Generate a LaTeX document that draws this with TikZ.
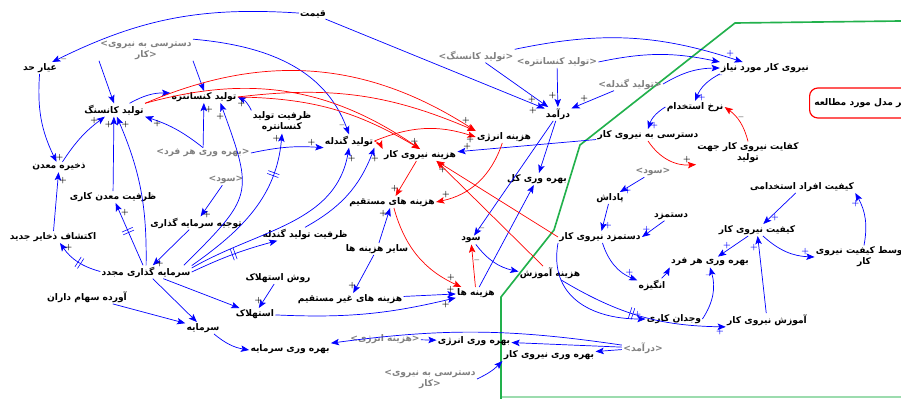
\documentclass[tikz,border=0pt]{standalone}
\usepackage{fontspec}
\usepackage{tikz}
\usetikzlibrary{arrows.meta,decorations.markings}
\TeXXeTstate=1
\newfontfamily\fafont[Script=Arabic]{DejaVu Sans}
\newfontfamily\ltfont{DejaVu Sans}
\newcommand{\fa}[1]{\beginR #1\endR}
\newcommand{\lt}[1]{{\ltfont\bfseries #1}}
\definecolor{bnd}{RGB}{34,177,76}

\tikzset{
  var/.style={font=\fafont\bfseries\fontsize{7.8}{9.5}\selectfont, inner sep=1pt, align=center},
  shadow/.style={var, text=gray},
  bl/.style={draw=blue, line width=.6pt, -{Stealth[length=7pt,width=5.5pt,inset=1.5pt]}},
  rd/.style={bl, draw=red},
  sg/.style={font=\bfseries\fontsize{6.5}{6.5}\selectfont, inner sep=.8pt, text=black},
  sgb/.style={sg, text=blue},
  delaymark/.style={postaction={decorate,decoration={markings,
      mark=at position #1 with {\draw[-,blue,line width=.5pt] (-1.3pt,-5pt)--(-1.3pt,5pt) (1.3pt,-5pt)--(1.3pt,5pt);}}}}
}

\begin{document}
\begin{tikzpicture}[x=0.03cm,y=0.03cm]
\useasboundingbox (0,0) rectangle (901,-399);
\fill[white] (0,0) rectangle (901,-399);
\draw[bnd!45, line width=1pt] (501,-397) -- (901,-397);
\draw[bnd, line width=1.4pt] (501,-399) -- (501,-297) -- (554,-230) -- (580,-145) -- (735,-23) -- (901,-21);

\begin{scope}[every node/.style={var}]
    \node (price) at (313,-14) {\fa{قیمت}};
    \node (cutoff) at (40,-68) {\fa{عیار حد}};
    \node (ore) at (114,-110) {\fa{تولید کانسنگ}};
    \node (conc) at (204,-97) {\fa{تولید کنسانتره}};
    \node (conccap) at (282,-122) {\fa{ظرفیت تولید}\\\fa{کنسانتره}};
    \node (pellet) at (349,-141) {\fa{تولید گندله}};
    \node (encost) at (504,-137) {\fa{هزینه انرژی}};
    \node (labcost) at (420,-155) {\fa{هزینه نیروی کار}};
    \node (rev) at (558,-114) {\fa{درآمد}};
    \node (totprod) at (537,-179) {\fa{بهره وری کل}};
    \node (dircost) at (392,-202) {\fa{هزینه های مستقیم}};
    \node (othcost) at (377,-249) {\fa{سایر هزینه ها}};
    \node (profit) at (471,-240) {\fa{سود}};
    \node (costs) at (476,-293) {\fa{هزینه ها}};
    \node (traincost) at (550,-273) {\fa{هزینه آموزش}};
    \node (indcost) at (350,-299) {\fa{هزینه های غیر مستقیم}};
    \node (depmeth) at (278,-278) {\fa{روش استهلاک}};
    \node (dep) at (255,-314) {\fa{استهلاک}};
    \node (reinv) at (146,-272) {\fa{سرمایه گذاری مجدد}};
    \node (share) at (87,-297) {\fa{آورده سهام داران}};
    \node (capital) at (203,-328) {\fa{سرمایه}};
    \node (capprod) at (290,-349) {\fa{بهره وری سرمایه}};
    \node (enprod) at (474,-341) {\fa{بهره وری انرژی}};
    \node (labprod) at (549,-355) {\fa{بهره وری نیروی کار}};
    \node (pelcap) at (305,-234) {\fa{ظرفیت تولید گندله}};
    \node (justif) at (196,-223) {\fa{توجیه سرمایه گذاری}};
    \node (minecap) at (113,-197) {\fa{ظرفیت معدن کاری}};
    \node (reserve) at (59,-167) {\fa{ذخیره معدن}};
    \node (explor) at (53,-237) {\fa{اکتشاف ذخایر جدید}};
    \node (reqlab) at (765,-68) {\fa{نیروی کار مورد نیاز}};
    \node (hire) at (695,-107) {\fa{نرخ استخدام}};
    \node (access) at (648,-135) {\fa{دسترسی به نیروی کار}};
    \node (adeq) at (748,-153) {\fa{کفایت نیروی کار جهت}\\\fa{تولید}};
    \node (bonus) at (610,-198) {\fa{پاداش}};
    \node (wage) at (671,-216) {\fa{دستمزد}};
    \node (labwage) at (600,-237) {\fa{دستمزد نیروی کار}};
    \node (motiv) at (652,-285) {\fa{انگیزه}};
    \node (perprod) at (710,-262) {\fa{بهره وری هر فرد}};
    \node (consc) at (674,-319) {\fa{وجدان کاری}};
    \node (train) at (767,-320) {\fa{آموزش نیروی کار}};
    \node (labq) at (757,-230) {\fa{کیفیت نیروی کار}};
    \node (hiredq) at (802,-187) {\fa{کیفیت افراد استخدامی}};
    \node (avgq) at (864,-257) {\fa{متوسط کیفیت نیروی}\\\fa{کار}};
    \node[draw=red, line width=1pt, rounded corners=7pt, anchor=west, minimum height=.9cm, inner xsep=4pt] (scopebox) at (809,-103) {\fa{زیر مدل مورد مطالعه}};
\end{scope}

\begin{scope}[every node/.style={shadow}]
    \node (saccessA) at (146,-50) {\lt{<}\fa{دسترسی به نیروی}\\\fa{کار}\lt{>}};
    \node (sore) at (476,-56) {\lt{<}\fa{تولید کانسنگ}\lt{>}};
    \node (sconc) at (557,-62) {\lt{<}\fa{تولید کنسانتره}\lt{>}};
    \node (spel) at (630,-84) {\lt{<}\fa{تولید گندله}\lt{>}};
    \node (sperprod) at (203,-153) {\lt{<}\fa{بهره وری هر فرد}\lt{>}};
    \node (sprofitA) at (226,-180) {\lt{<}\fa{سود}\lt{>}};
    \node (sprofitB) at (653,-172) {\lt{<}\fa{سود}\lt{>}};
    \node (sencost) at (385,-339) {\lt{<}\fa{هزینه انرژی}\lt{>}};
    \node (saccessB) at (430,-379) {\lt{<}\fa{دسترسی به نیروی}\\\fa{کار}\lt{>}};
    \node (srev) at (643,-348) {\lt{<}\fa{درآمد}\lt{>}};
\end{scope}

\begin{scope}[every node/.style={sg}]
    \path (price) edge[bl, bend right=15] node[pos=.97, below right] {--} (cutoff);
    \path (price) edge[bl] node[pos=.97, below left] {+} (rev);
    \path (sore) edge[bl] node[pos=.82, left] {+} (rev);
    \path (sconc) edge[bl] node[pos=.7, left] {+} (rev);
    \path (spel) edge[bl] node[pos=.7, above] {+} (rev);
    \path (rev) edge[bl] (totprod);
    \path (rev) edge[bl] node[pos=.95, right] {--} (profit);
    \path (costs) edge[bl] (totprod);
    \path (profit) edge[bl, bend right=20] (traincost);
    \path (access) edge[bl] node[pos=.93, above] {+} (labcost);
    \path (othcost) edge[bl] node[pos=.85, left] {+} (dircost);
    \path (othcost) edge[bl] node[pos=.8, left] {+} (indcost);
    \path (indcost) edge[bl] node[pos=.9, above] {+} (costs);
    \path (dep) edge[bl, bend right=8] node[pos=.95, below] {+} (costs);
    \path (srev) edge[bl, bend right=8] (capprod);
    \path (srev) edge[bl] (enprod);
    \path (srev) edge[bl] (labprod);
    \path (sencost) edge[bl] (enprod);
    \path (saccessB.east) edge[bl, bend right=10] (labprod.south west);
    \path (capital) edge[bl, bend right=15] (capprod);
    \path (share) edge[bl] (capital);
    \path (reinv) edge[bl] (capital);
    \path (reinv) edge[bl] (dep);
    \path (depmeth) edge[bl] node[pos=.7, left] {+} (dep);

    \path (reinv) edge[bl, bend left=20, delaymark=.45] node[pos=.9, right] {+} (explor);
    \path (reinv) edge[bl, delaymark=.55] node[pos=.85, right] {+} (minecap);
    \path (reinv) edge[bl, bend right=12] node[pos=.95, right] {+} (ore);
    \path (reinv.10) edge[bl, out=45, in=-70, looseness=1.5] node[pos=.95, left] {+} (conc.-20);
    \path (reinv.8) edge[bl, out=35, in=-95, delaymark=.75] node[pos=.97, left] {+} (conccap.south);
    \path (reinv.5) edge[bl, out=30, in=-100] node[pos=.95, right] {+} (pellet.south);
    \path (reinv.east) edge[bl, bend left=5, delaymark=.5] (pelcap);
    \path (justif) edge[bl] node[pos=.95, right] {+} (reinv);
    \path (sprofitA) edge[bl] node[pos=.95, right] {+} (justif);

    \path (explor) edge[bl] node[pos=.85, right] {+} (reserve);
    \path (cutoff) edge[bl, bend right=15] node[pos=.95, right] {+} (reserve);
    \path (reserve) edge[bl, bend left=10] node[pos=.9, left] {+} (ore);
    \path (minecap) edge[bl] node[pos=.9, left] {+} (ore);
    \path (saccessA.south west) edge[bl] (ore.north);
    \path (saccessA.south east) edge[bl] (conc.north);
    \path (saccessA.north east) edge[bl, out=-5, in=110] node[pos=.96, left] {--} (pellet.north);
    \path (sperprod.north) edge[bl, bend right=10] node[pos=.9, below right] {+} (ore.south east);
    \path (sperprod) edge[bl] node[pos=.85, right] {+} (conc);
    \path (sperprod.east) edge[bl, bend left=8] node[pos=.85, above] {+} (pellet.south west);
    \path (ore) edge[bl, bend left=15] (conc);
    \path (conccap.north west) edge[bl, bend right=20] node[pos=.8, below] {+} (conc.east);
    \path (pelcap.north) edge[bl, bend right=20] node[pos=.9, right] {+} (pellet.south east);

    \path (ore.north east) edge[rd, bend left=28] node[pos=.97, above] {+} (encost.north west);
    \path (ore.north east) edge[rd, bend left=25] (labcost.north);
    \path (conc.east) edge[rd, bend left=15] (encost.north west);
    \path (conc.east) edge[rd, bend left=15] node[pos=.97, above] {+} (labcost.north);
    \path (pellet.east) edge[rd, bend left=20] node[pos=.95, below] {+} (encost.west);
    \path (pellet.east) edge[rd, bend left=20] (labcost.north west);
    \path (encost) edge[rd, bend left=30] node[pos=.9, above] {+} (dircost.east);
    \path (labcost) edge[rd] node[pos=.8, left] {+} (dircost);
    \path (dircost) edge[rd, bend right=25] node[pos=.9, above] {+} (costs);
    \path (costs) edge[rd] node[pos=.6, right] {--} (profit);
    \path (labwage.west) edge[rd] node[pos=.95, below] {+} (labcost.-20);
    \path (traincost) edge[rd] (labcost.-20);
    \path (adeq.north) edge[rd, bend right=20] node[pos=.6, right] {--} (hire.east);
    \path (access.south) edge[rd, bend right=30] node[pos=.85, above] {+} (adeq.south west);
\end{scope}

\begin{scope}[every node/.style={sgb}]
    \path (sore.north east) edge[bl, bend left=15] node[pos=.95, above] {+} (reqlab.165);
    \path (sconc.east) edge[bl, bend left=12] (reqlab.north west);
    \path (spel.east) edge[bl, bend left=15] (reqlab.west);
    \path (reqlab.south west) edge[bl, bend right=20] node[pos=.1, right] {--} node[pos=.9, right] {+} (hire.north);
    \path (hire.west) edge[bl, bend right=20] node[pos=.9, right] {+} (access.north);
    \path (sprofitB) edge[bl] node[pos=.9, right] {+} (bonus);
    \path (bonus) edge[bl] node[pos=.8, right] {+} (labwage);
    \path (wage) edge[bl] node[pos=.8, above] {+} (labwage.east);
    \path (labwage) edge[bl, bend right=25] node[pos=.85, above] {+} (motiv);
    \path (labwage.south west) edge[bl, out=-100, in=180, looseness=1.2] node[pos=.95, above] {+} (consc.west);
    \path (motiv) edge[bl, bend right=10] (perprod.south west);
    \path (consc.east) edge[bl, bend right=25] node[pos=.85, left] {--} (perprod.south);
    \path (labq) edge[bl] node[pos=.7, above] {+} (perprod);
    \path (train) edge[bl] node[pos=.85, left] {+} (labq);
    \path (hiredq) edge[bl] node[pos=.8, right] {+} (labq);
    \path (labq) edge[bl, bend right=20] node[pos=.85, above] {+} (avgq.west);
    \path (avgq.north) edge[bl, bend right=20] node[pos=.8, left] {+} (hiredq.south east);
    \path (traincost) edge[bl, bend right=15, delaymark=.45] node[pos=.97, below] {+} (train.south west);
\end{scope}
\end{tikzpicture}
\end{document}
